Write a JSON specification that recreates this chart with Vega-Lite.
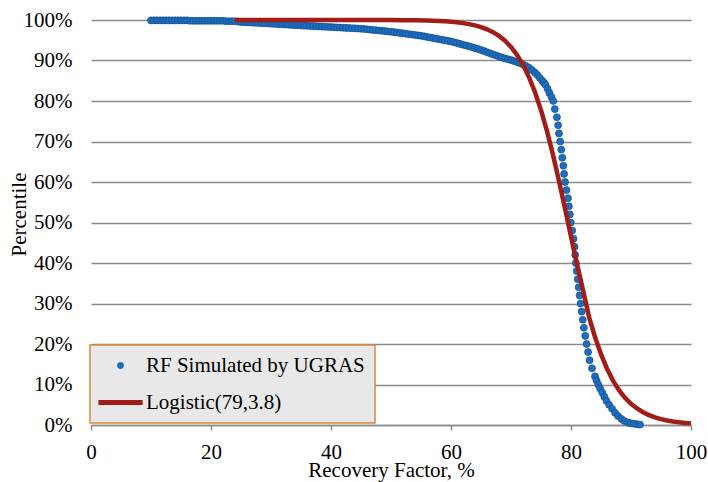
{
  "$schema": "https://vega.github.io/schema/vega-lite/v6.json",
  "width": 600,
  "height": 405,
  "autosize": {"type": "none"},
  "padding": {"left": 91, "top": 20, "right": 17, "bottom": 57},
  "background": "white",
  "config": {
    "view": {"stroke": null},
    "font": "Liberation Serif",
    "axis": {"labelFont": "Liberation Serif", "labelFontSize": 21, "titleFont": "Liberation Serif", "titleFontSize": 21, "labelColor": "#000000", "titleColor": "#000000"},
    "legend": {"labelFont": "Liberation Serif", "labelFontSize": 21, "labelLimit": 400}
  },
  "datasets": {
    "sim": [
      {"x":10,"p":99.9},{"x":10.5,"p":99.9},{"x":11,"p":99.9},{"x":11.5,"p":99.9},{"x":12,"p":99.9},{"x":12.5,"p":99.9},{"x":13,"p":99.9},{"x":13.5,"p":99.9},{"x":14,"p":99.9},{"x":14.5,"p":99.9},{"x":15,"p":99.9},{"x":15.5,"p":99.9},{"x":16,"p":99.9},
      {"x":16.5,"p":99.8},{"x":17,"p":99.8},{"x":17.5,"p":99.8},{"x":18,"p":99.8},{"x":18.5,"p":99.8},{"x":19,"p":99.8},{"x":19.5,"p":99.8},{"x":20,"p":99.8},{"x":20.5,"p":99.8},{"x":21,"p":99.8},{"x":21.5,"p":99.8},{"x":22,"p":99.8},
      {"x":22.5,"p":99.7},{"x":23,"p":99.7},{"x":23.5,"p":99.7},{"x":24,"p":99.7},{"x":24.5,"p":99.6},{"x":25,"p":99.5},
      {"x":25.5,"p":99.46},{"x":26,"p":99.42},{"x":26.5,"p":99.38},{"x":27,"p":99.34},{"x":27.5,"p":99.3},{"x":28,"p":99.26},{"x":28.5,"p":99.22},{"x":29,"p":99.18},{"x":29.5,"p":99.14},{"x":30,"p":99.1},
      {"x":30.5,"p":99.05},{"x":31,"p":99.01},{"x":31.5,"p":98.96},{"x":32,"p":98.92},{"x":32.5,"p":98.87},{"x":33,"p":98.83},{"x":33.5,"p":98.78},{"x":34,"p":98.74},{"x":34.5,"p":98.69},{"x":35,"p":98.65},
      {"x":35.5,"p":98.61},{"x":36,"p":98.57},{"x":36.5,"p":98.53},{"x":37,"p":98.49},{"x":37.5,"p":98.45},{"x":38,"p":98.41},{"x":38.5,"p":98.37},{"x":39,"p":98.33},{"x":39.5,"p":98.29},{"x":40,"p":98.25},
      {"x":40.5,"p":98.21},{"x":41,"p":98.17},{"x":41.5,"p":98.13},{"x":42,"p":98.09},{"x":42.5,"p":98.05},{"x":43,"p":98.01},{"x":43.5,"p":97.97},{"x":44,"p":97.93},{"x":44.5,"p":97.89},{"x":45,"p":97.85},
      {"x":45.5,"p":97.78},{"x":46,"p":97.7},{"x":46.5,"p":97.63},{"x":47,"p":97.55},{"x":47.5,"p":97.48},{"x":48,"p":97.4},{"x":48.5,"p":97.33},{"x":49,"p":97.25},{"x":49.5,"p":97.18},{"x":50,"p":97.1},
      {"x":50.5,"p":97.0},{"x":51,"p":96.9},{"x":51.5,"p":96.8},{"x":52,"p":96.7},{"x":52.5,"p":96.6},{"x":53,"p":96.5},{"x":53.5,"p":96.4},{"x":54,"p":96.3},{"x":54.5,"p":96.2},{"x":55,"p":96.1},
      {"x":55.5,"p":95.96},{"x":56,"p":95.82},{"x":56.5,"p":95.68},{"x":57,"p":95.54},{"x":57.5,"p":95.4},{"x":58,"p":95.26},{"x":58.5,"p":95.12},{"x":59,"p":94.98},{"x":59.5,"p":94.84},{"x":60,"p":94.7},
      {"x":60.5,"p":94.5},{"x":61,"p":94.3},{"x":61.5,"p":94.1},{"x":62,"p":93.9},{"x":62.5,"p":93.7},{"x":63,"p":93.5},{"x":63.5,"p":93.28},{"x":64,"p":93.05},{"x":64.5,"p":92.83},{"x":65,"p":92.6},
      {"x":65.5,"p":92.33},{"x":66,"p":92.05},{"x":66.5,"p":91.78},{"x":67,"p":91.5},{"x":67.5,"p":91.25},{"x":68,"p":91.0},{"x":68.5,"p":90.75},{"x":69,"p":90.5},{"x":69.5,"p":90.3},{"x":70,"p":90.1},
      {"x":70.5,"p":89.85},{"x":71,"p":89.6},{"x":71.5,"p":89.35},{"x":72,"p":89.0},{"x":72.5,"p":88.65},{"x":73,"p":88.2},{"x":73.5,"p":87.65},{"x":74,"p":87.0},{"x":74.4,"p":86.4},{"x":74.8,"p":85.7},{"x":75.2,"p":85.0},{"x":75.5,"p":84.5},
      {"x":75.75,"p":84},{"x":76.1,"p":83},{"x":76.4,"p":82},{"x":76.75,"p":81},{"x":77.05,"p":80},{"x":77.3,"p":78},{"x":77.65,"p":76},{"x":77.85,"p":74},{"x":78.0,"p":72},{"x":78.2,"p":70},
      {"x":78.38,"p":68},{"x":78.55,"p":66},{"x":78.72,"p":64},{"x":78.85,"p":62},{"x":79.0,"p":60},{"x":79.25,"p":58},{"x":79.5,"p":56},{"x":79.65,"p":54},{"x":79.8,"p":52},{"x":79.95,"p":50},
      {"x":80.2,"p":48},{"x":80.42,"p":46},{"x":80.6,"p":44},{"x":80.7,"p":42},{"x":80.8,"p":40},{"x":80.95,"p":38},{"x":81.12,"p":36},{"x":81.28,"p":34},{"x":81.44,"p":32},{"x":81.6,"p":30},
      {"x":81.78,"p":28},{"x":81.96,"p":26},{"x":82.15,"p":24},{"x":82.38,"p":22},{"x":82.6,"p":20},{"x":82.85,"p":18},{"x":83.1,"p":16},{"x":83.5,"p":14},{"x":84.0,"p":12},
      {"x":84.25,"p":11},{"x":84.55,"p":10},{"x":84.85,"p":9},{"x":85.2,"p":8},{"x":85.55,"p":7},{"x":85.9,"p":6},{"x":86.35,"p":5},{"x":86.85,"p":4},{"x":87.35,"p":3},{"x":87.85,"p":2.2},
      {"x":88.4,"p":1.5},{"x":88.9,"p":1.0},{"x":89.5,"p":0.6},{"x":90.0,"p":0.4},{"x":90.5,"p":0.3},{"x":91.0,"p":0.2},{"x":91.5,"p":0.1}
    ],
    "logistic": [
      {"x":24,"p":100.0},{"x":30,"p":100.0},{"x":40,"p":100.0},{"x":45,"p":99.99},{"x":50,"p":99.97},{"x":52,"p":99.95},{"x":54,"p":99.92},{"x":56,"p":99.85},{"x":58,"p":99.75},{"x":59,"p":99.67},
      {"x":60,"p":99.56},{"x":61,"p":99.42},{"x":62,"p":99.23},{"x":63,"p":98.99},{"x":64,"p":98.67},{"x":65,"p":98.25},{"x":66,"p":97.7},{"x":67,"p":96.99},{"x":68,"p":96.06},{"x":69,"p":94.87},
      {"x":70,"p":93.33},{"x":71,"p":91.38},{"x":72,"p":88.93},{"x":73,"p":85.89},{"x":74,"p":82.17},{"x":75,"p":77.73},{"x":76,"p":72.55},{"x":77,"p":66.69},{"x":78,"p":60.27},{"x":79,"p":53.46},
      {"x":80,"p":46.54},{"x":81,"p":39.73},{"x":82,"p":33.31},{"x":83,"p":26.7},{"x":84,"p":21.7},{"x":85,"p":17.5},{"x":86,"p":13.9},{"x":87,"p":10.96},{"x":88,"p":8.59},{"x":89,"p":6.7},
      {"x":90,"p":5.24},{"x":91,"p":4.08},{"x":92,"p":3.17},{"x":93,"p":2.45},{"x":94,"p":1.89},{"x":95,"p":1.46},{"x":96,"p":1.13},{"x":97,"p":0.87},{"x":98,"p":0.67},{"x":99,"p":0.52},{"x":100,"p":0.4}
    ]
  },
  "encoding": {
    "x": {
      "field": "x", "type": "quantitative",
      "scale": {"domain": [0, 100], "nice": false, "zero": false},
      "axis": {
        "values": [0, 20, 40, 60, 80, 100],
        "grid": false,
        "domainColor": "#8c8c8c", "domainWidth": 1.5,
        "tickColor": "#8c8c8c", "tickSize": 5, "tickWidth": 1.5,
        "labelFont": "Liberation Serif", "labelFontSize": 21, "labelColor": "#000000",
        "labelBaseline": "alphabetic", "labelPadding": 28, "labelFlush": false,
        "title": "Recovery Factor, %",
        "titleFont": "Liberation Serif", "titleFontSize": 21, "titleFontWeight": "normal", "titleColor": "#000000",
        "titleBaseline": "alphabetic", "titleY": 51, "titleX": 300, "titleAlign": "center"
      }
    },
    "y": {
      "field": "p", "type": "quantitative",
      "scale": {"domain": [0, 100], "nice": false},
      "axis": {
        "values": [0, 10, 20, 30, 40, 50, 60, 70, 80, 90, 100],
        "labelExpr": "datum.value + '%'",
        "grid": true, "gridColor": "#8c8c8c", "gridWidth": 1.3,
        "domain": false, "ticks": false, "tickSize": 0,
        "labelFont": "Liberation Serif", "labelFontSize": 21, "labelColor": "#000000",
        "labelPadding": 19,
        "title": "Percentile",
        "titleFont": "Liberation Serif", "titleFontSize": 21, "titleFontWeight": "normal", "titleColor": "#000000",
        "titleAngle": -90, "titleBaseline": "alphabetic", "titleAlign": "center",
        "titleX": -66, "titleY": 194
      }
    }
  },
  "layer": [
    {
      "data": {"name": "sim"},
      "mark": {"type": "point", "filled": true, "size": 50, "opacity": 1, "stroke": "#0e4c8c", "strokeWidth": 0.6},
      "encoding": {
        "color": {
          "datum": "RF Simulated by UGRAS", "type": "nominal",
          "scale": {"domain": ["RF Simulated by UGRAS", "Logistic(79,3.8)"], "range": ["#1f6dbd", "#a21d17"]},
          "legend": {
            "orient": "none", "legendX": -1, "legendY": 325,
            "title": null,
            "labelFont": "Liberation Serif", "labelFontSize": 21, "labelColor": "#000000", "labelLimit": 400,
            "fillColor": "#e8e8e8", "strokeColor": "#d18a3a",
            "padding": 10, "rowPadding": 15,
            "symbolSize": 40, "symbolOffset": 10, "labelOffset": 15,
            "encode": {
              "legend": {"update": {"strokeWidth": {"value": 1.5}}},
              "symbols": {"update": {
                "shape": {"signal": "datum.value == 'Logistic(79,3.8)' ? 'M-7,0H7' : 'circle'"},
                "size": {"value": 40},
                "fill": {"signal": "datum.value == 'Logistic(79,3.8)' ? 'transparent' : '#1f6dbd'"},
                "stroke": {"signal": "datum.value == 'Logistic(79,3.8)' ? '#a21d17' : '#0e4c8c'"},
                "strokeWidth": {"signal": "datum.value == 'Logistic(79,3.8)' ? 5 : 0.6"},
                "opacity": {"value": 1}
              }}
            }
          }
        }
      }
    },
    {
      "data": {"name": "logistic"},
      "mark": {"type": "line", "strokeWidth": 4.5, "strokeCap": "butt"},
      "encoding": {
        "color": {
          "datum": "Logistic(79,3.8)", "type": "nominal",
          "legend": {
            "orient": "none", "legendX": -1, "legendY": 325,
            "title": null,
            "labelFont": "Liberation Serif", "labelFontSize": 21, "labelColor": "#000000", "labelLimit": 400,
            "fillColor": "#e8e8e8", "strokeColor": "#d18a3a",
            "padding": 10, "rowPadding": 15,
            "symbolSize": 40, "symbolOffset": 10, "labelOffset": 15,
            "encode": {
              "legend": {"update": {"strokeWidth": {"value": 1.5}}},
              "symbols": {"update": {
                "shape": {"signal": "datum.value == 'Logistic(79,3.8)' ? 'M-7,0H7' : 'circle'"},
                "size": {"value": 40},
                "fill": {"signal": "datum.value == 'Logistic(79,3.8)' ? 'transparent' : '#1f6dbd'"},
                "stroke": {"signal": "datum.value == 'Logistic(79,3.8)' ? '#a21d17' : '#0e4c8c'"},
                "strokeWidth": {"signal": "datum.value == 'Logistic(79,3.8)' ? 5 : 0.6"},
                "opacity": {"value": 1}
              }}
            }
          }
        }
      }
    }
  ]
}
